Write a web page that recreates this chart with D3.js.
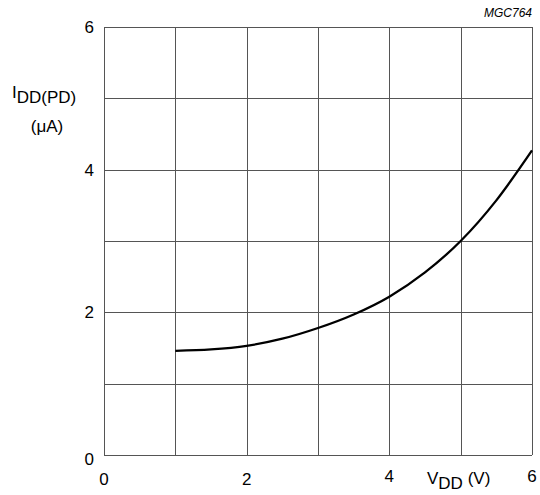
<!DOCTYPE html>
<html lang="en">
<head>
<meta charset="UTF-8">
<script src="https://d3js.org/d3.v7.min.js"></script>
<title>IDD(PD) vs VDD</title>
<style>
    body { margin: 0; background: #fff; }
    svg { display: block; }
    text { font-family: 'Liberation Sans', Arial, sans-serif; fill: #000; }
    .grid line { stroke: #555; stroke-width: 1; shape-rendering: crispEdges; }
</style>
</head>
<body>
<svg id="canvas"></svg>
<script>
// curve
let vdd = [1, 1.5, 2, 2.5, 3, 3.5, 4, 4.5, 5, 5.5, 6]
let idd = [1.46, 1.48, 1.53, 1.63, 1.78, 1.97, 2.22, 2.56, 3.0, 3.57, 4.27]

let xTicks = [0, 2, 4, 6]
let yTicks = [0, 2, 4, 6]
let gridSteps = [0, 1, 2, 3, 4, 5, 6]

let width = 540
let height = 495
let plotLeft = 104, plotRight = 532, plotTop = 27, plotBottom = 455
let fs = 17

let svg = d3.select('#canvas').attr('width', width).attr('height', height)

let xScale = d3.scaleLinear().domain([0, 6]).range([plotLeft, plotRight])
let yScale = d3.scaleLinear().domain([0, 6]).range([plotBottom, plotTop])

// grid
let grid = svg.append('g').attr('class', 'grid')
grid.selectAll('.v').data(gridSteps).enter().append('line')
    .attr('x1', d => Math.round(xScale(d)) + 0.5)
    .attr('x2', d => Math.round(xScale(d)) + 0.5)
    .attr('y1', plotTop).attr('y2', plotBottom)
grid.selectAll('.h').data(gridSteps).enter().append('line')
    .attr('y1', d => Math.round(yScale(d)) + 0.5)
    .attr('y2', d => Math.round(yScale(d)) + 0.5)
    .attr('x1', plotLeft).attr('x2', plotRight)

// tick labels
svg.selectAll('.ylab').data(yTicks).enter().append('text')
    .attr('x', 94)
    .attr('y', d => d === 0 ? yScale(d) + 10 : yScale(d) + 6)
    .attr('text-anchor', 'end')
    .attr('font-size', fs)
    .text(d => d)

svg.selectAll('.xlab').data(xTicks).enter().append('text')
    .attr('x', d => xScale(d))
    .attr('y', d => d === 0 || d === 2 ? 485 : 482)
    .attr('text-anchor', 'middle')
    .attr('font-size', fs)
    .text(d => d)

// curve
let line = d3.line()
    .x((d, i) => xScale(vdd[i]))
    .y(d => yScale(d))
    .curve(d3.curveMonotoneX)

svg.append('path')
    .datum(idd)
    .attr('d', line)
    .attr('fill', 'none')
    .attr('stroke', '#000')
    .attr('stroke-width', 2.3)

// axis titles
let yTitle = svg.append('text').attr('x', 12).attr('y', 103).attr('font-size', fs)
yTitle.append('tspan').text('I').attr('dy', -5)
yTitle.append('tspan').text('DD(PD)').attr('dy', 5)
svg.append('text').attr('x', 47).attr('y', 132).attr('text-anchor', 'middle')
    .attr('font-size', fs).text('(μA)')

let xTitle = svg.append('text').attr('x', 427).attr('y', 484).attr('font-size', fs)
xTitle.append('tspan').text('V')
xTitle.append('tspan').text('DD').attr('dy', 5)
xTitle.append('tspan').text(' (V)').attr('dy', -5)

svg.append('text').attr('x', 532).attr('y', 17).attr('text-anchor', 'end')
    .attr('font-size', 12).attr('font-style', 'italic').text('MGC764')
</script>
</body>
</html>
